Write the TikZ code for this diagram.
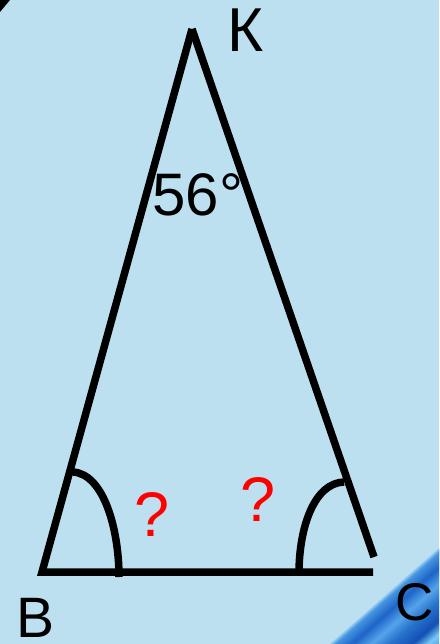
\documentclass[tikz,border=0pt]{standalone}
\usepackage{fontspec}
\setmainfont{Liberation Sans}
\definecolor{bg}{RGB}{189,224,240}
\definecolor{qred}{RGB}{255,0,0}
\definecolor{s0}{RGB}{165,215,245}
\definecolor{s1}{RGB}{70,150,225}
\definecolor{s2}{RGB}{30,100,200}
\definecolor{s3}{RGB}{85,165,235}
\definecolor{s4}{RGB}{40,115,205}
\definecolor{s5}{RGB}{20,80,180}
\definecolor{s6}{RGB}{120,200,245}
\definecolor{s7}{RGB}{60,140,220}
\begin{document}
\begin{tikzpicture}[x=1pt,y=-1pt,
  side/.style={line width=7.5pt, line cap=butt},
  arcline/.style={line width=7.5pt, line cap=butt},
  lbl/.style={inner sep=0pt, outer sep=0pt, anchor=base, text depth=0pt}]
\fill[bg] (0,0) rectangle (439,644);
\useasboundingbox (0,0) rectangle (439,644);
% corner decorations
\fill[black] (0,0) -- (10,0) -- (0,12) -- cycle;
\begin{scope}
\clip (330,644) -- (439,548) -- (439,644) -- cycle;
\foreach \da/\db/\ca/\cb in {0/4/s0/s1, 4/15/s1/s2, 15/28/s2/s3, 28/40/s3/s4, 40/55/s4/s5, 55/65/s5/s6, 65/80/s6/s7} {
  \foreach \k in {0,...,9} {
    \pgfmathsetmacro\dd{\da+\k*(\db-\da)/10}
    \pgfmathsetmacro\de{\da+(\k+1)*(\db-\da)/10+0.6}
    \pgfmathtruncatemacro\pc{100-\k*10-5}
    \pgfmathsetmacro\xa{330+0.661*\dd}
    \pgfmathsetmacro\ya{644+0.751*\dd}
    \pgfmathsetmacro\xb{330+0.661*\de}
    \pgfmathsetmacro\yb{644+0.751*\de}
    \fill[color=\ca!\pc!\cb] (\xa+150.2,\ya-132.2) -- (\xa-150.2,\ya+132.2) -- (\xb-150.2,\yb+132.2) -- (\xb+150.2,\yb-132.2) -- cycle;
  }
}
\end{scope}
% triangle vertices
\coordinate (Kv) at (192,29);
\coordinate (Bv) at (42,572);
\coordinate (Cb) at (373,572);
\coordinate (Ce) at (374,557);
\draw[side, line join=miter] (Cb) -- (Bv) -- (Kv);
\draw[side] (Kv) -- (Ce);
% angle arcs
\coordinate (a1s) at (73,472);
\coordinate (a1e) at (119,577);
\coordinate (a2s) at (344,482);
\coordinate (a2e) at (299,573);
\draw[arcline] (a1s) .. controls (104,474) and (119,530) .. (a1e);
\draw[arcline] (a2s) .. controls (314,483) and (299,528) .. (a2e);
% labels
\node[lbl, font=\fontsize{62}{62}\selectfont] (K) at (246,52) {К};
\node[lbl, font=\fontsize{57}{57}\selectfont] (B) at (36,637) {В};
\node[lbl, font=\fontsize{53}{53}\selectfont] (C) at (415,620) {С};
\node[lbl, font=\fontsize{60}{60}\selectfont] (ang) at (198,215) {56°};
\node[lbl, font=\fontsize{63}{63}\selectfont, text=qred] (q1) at (152,536) {?};
\node[lbl, font=\fontsize{63}{63}\selectfont, text=qred] (q2) at (258,521) {?};
\end{tikzpicture}
\end{document}
